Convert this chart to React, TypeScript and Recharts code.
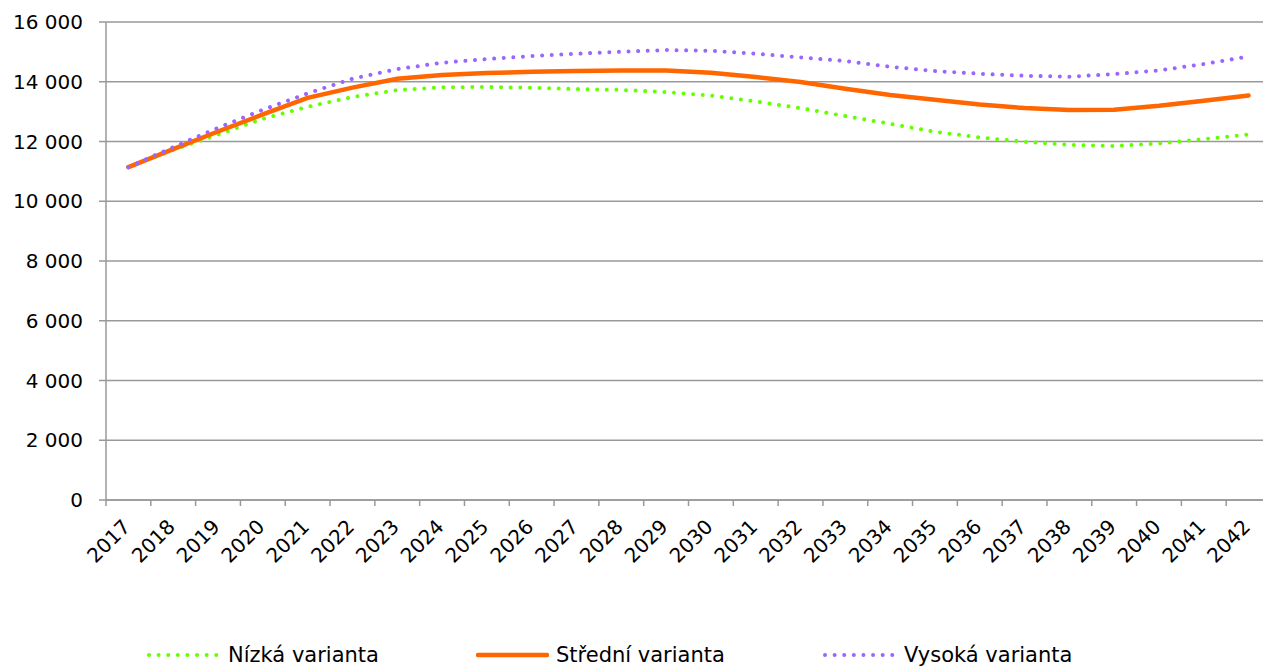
import React from "react"
import { LineChart, Line, XAxis, YAxis, CartesianGrid } from "recharts"

// years on the category axis
const years = [
  "2017", "2018", "2019", "2020", "2021", "2022", "2023", "2024", "2025",
  "2026", "2027", "2028", "2029", "2030", "2031", "2032", "2033", "2034",
  "2035", "2036", "2037", "2038", "2039", "2040", "2041", "2042",
]

// Nízká varianta
const nizka = [
  11140, 11720, 12235, 12760, 13162, 13487, 13720, 13816, 13823, 13799, 13755, 13727, 13655,
  13537, 13340, 13118, 12850, 12593, 12325, 12134, 11990, 11890, 11850, 11933, 12080, 12235,
]

// Střední varianta
const stredni = [
  11140, 11745, 12335, 12905, 13460, 13805, 14100, 14224, 14290, 14335, 14357, 14380, 14380,
  14300, 14156, 13990, 13766, 13554, 13397, 13240, 13118, 13051, 13062, 13196, 13364, 13542,
]

// Vysoká varianta
const vysoka = [
  11140, 11812, 12459, 13062, 13610, 14100, 14424, 14636, 14760, 14860, 14938, 15005, 15061,
  15038, 14938, 14815, 14693, 14502, 14357, 14268, 14201, 14167, 14257, 14380, 14592, 14848,
]

const yTicks = [0, 2000, 4000, 6000, 8000, 10000, 12000, 14000, 16000]

const series = [
  { key: "nizka", name: "Nízká varianta", color: "#66ff00", dotted: true },
  { key: "stredni", name: "Střední varianta", color: "#ff6600", dotted: false },
  { key: "vysoka", name: "Vysoká varianta", color: "#9966ff", dotted: true },
]

const data = years.map((year, i) => ({
  year,
  nizka: nizka[i],
  stredni: stredni[i],
  vysoka: vysoka[i],
}))

const FONT = "'DejaVu Sans', Verdana, sans-serif"
const GRID = "#999999"
const HALF_BAND = 22.4
const DOTS = "0.01 9.6"

const formatThousands = (v: number) => String(v).replace(/\B(?=(\d{3})+(?!\d))/g, " ")

function YearTick(props: any) {
  const { x, y, payload, index } = props
  const tx = x + 3
  const ty = y + 28
  return (
    <g>
      <line x1={x - HALF_BAND} x2={x - HALF_BAND} y1={y} y2={y + 6} stroke={GRID} strokeWidth={1.5} />
      {index === years.length - 1 && (
        <line x1={x + HALF_BAND} x2={x + HALF_BAND} y1={y} y2={y + 6} stroke={GRID} strokeWidth={1.5} />
      )}
      <text
        x={tx}
        y={ty}
        textAnchor="end"
        transform={`rotate(-45, ${tx}, ${ty})`}
        fontFamily={FONT}
        fontSize={20}
        fill="#000"
      >
        {payload.value}
      </text>
    </g>
  )
}

function LegendItem({ left, lineWidth, color, dotted, label }: any) {
  return (
    <div style={{ position: "absolute", left, top: 640, height: 30, display: "flex", alignItems: "center" }}>
      <svg width={lineWidth} height={10} style={{ marginRight: 7 }}>
        <line
          x1={2}
          x2={lineWidth - 2}
          y1={5}
          y2={5}
          stroke={color}
          strokeWidth={dotted ? 4 : 4.5}
          strokeDasharray={dotted ? DOTS : undefined}
          strokeLinecap="round"
        />
      </svg>
      <span style={{ fontFamily: FONT, fontSize: 21, color: "#000", whiteSpace: "nowrap" }}>{label}</span>
    </div>
  )
}

export default function App() {
  return (
    <div
      style={{
        position: "absolute",
        left: 0,
        top: 0,
        width: 1263,
        height: 670,
        overflow: "hidden",
        background: "#fff",
      }}
    >
      <LineChart width={1281} height={670} data={data} margin={{ top: 22, right: 10, left: 0, bottom: 70 }}>
        <CartesianGrid vertical={false} stroke={GRID} strokeWidth={1.5} />
        <XAxis
          dataKey="year"
          height={100}
          padding={{ left: HALF_BAND, right: HALF_BAND }}
          axisLine={{ stroke: GRID, strokeWidth: 1.5 }}
          tickLine={false}
          tickSize={0}
          tickMargin={0}
          interval={0}
          tick={<YearTick />}
        />
        <YAxis
          width={106}
          domain={[0, 16000]}
          ticks={yTicks}
          tickFormatter={formatThousands}
          axisLine={{ stroke: GRID, strokeWidth: 1.5 }}
          tickLine={{ stroke: GRID, strokeWidth: 1.5 }}
          tickSize={7}
          tickMargin={16}
          tick={{ fontFamily: FONT, fontSize: 20, fill: "#000" }}
        />
        {series.map((s) => (
          <Line
            key={s.key}
            type="linear"
            dataKey={s.key}
            name={s.name}
            stroke={s.color}
            strokeWidth={s.dotted ? 4 : 4.5}
            strokeDasharray={s.dotted ? DOTS : undefined}
            strokeLinecap="round"
            dot={false}
            activeDot={false}
            isAnimationActive={false}
          />
        ))}
      </LineChart>
      <LegendItem left={147} lineWidth={74} color="#66ff00" dotted label="Nízká varianta" />
      <LegendItem left={476} lineWidth={73} color="#ff6600" dotted={false} label="Střední varianta" />
      <LegendItem left={823} lineWidth={74} color="#9966ff" dotted label="Vysoká varianta" />
    </div>
  )
}
